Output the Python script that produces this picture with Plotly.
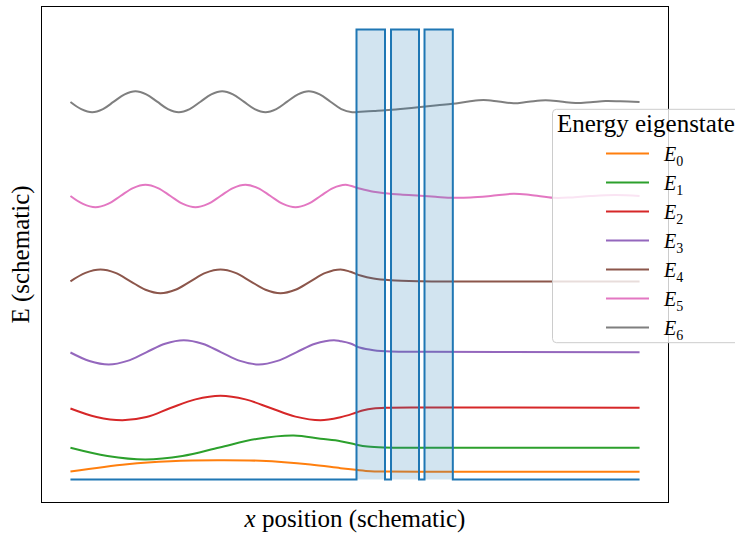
import plotly.graph_objects as go

# ---- data (schematic units: x position, energy) ----
pot_x = [0, 286, 286, 314.5, 314.5, 320.5, 320.5, 348.5, 348.5, 354, 354, 382.3, 382.3, 569]
pot_y = [0, 0, 450, 450, 0, 0, 450, 450, 0, 0, 450, 450, 0, 0]

e0_x = [0, 56.7, 100, 146.7, 190, 240, 270, 285, 300, 313, 350, 450, 569]
e0_y = [8, 15.3, 18.3, 19.3, 18.7, 15, 11.3, 9.7, 8.3, 8, 7.8, 7.7, 7.7]

e1_x = [0, 37, 75, 112, 149, 186, 223.3, 250, 270, 285, 297, 313, 350, 430, 569]
e1_y = [31.7, 23.5, 20, 23.5, 32, 40.5, 44, 40.7, 38.3, 35, 33, 32, 31.7, 31.7, 31.7]

e2_x = [0, 26, 52, 76, 100, 125, 150, 175, 200, 225, 250, 270, 285, 293, 303, 315, 350, 430, 569]
e2_y = [71, 62.5, 59.3, 62.5, 71.5, 80.1, 83.7, 80.1, 71.5, 62.9, 59.3, 62.3, 66.7, 69.3, 71, 71.7, 72, 72, 71.7]

e3_x = [0, 19, 38.3, 57, 75.8, 94.6, 113.3, 132, 150.8, 169.6, 188.3, 207, 225.8, 244.6, 263.3,
        270, 280, 290, 303, 320, 353, 430, 569]
e3_y = [127, 118.5, 115, 118.6, 127.2, 135.8, 139.3, 135.8, 127.2, 118.6, 115, 118.6, 127.2, 135.8, 139.3,
        138.3, 136, 131.7, 129.3, 128, 127.7, 127.4, 127.3]

e4_x = [0, 15, 30, 45, 60, 75, 90, 105, 120, 135, 150, 165, 180, 195, 210, 225, 240, 255, 270,
        280, 290, 303, 320, 350, 382, 430, 569]
e4_y = [198.2, 206.6, 210, 206.6, 198.2, 189.8, 186.3, 189.8, 198.2, 206.6, 210, 206.6, 198.2, 189.8,
        186.3, 189.8, 198.2, 206.6, 210, 207.7, 204, 201, 199.3, 198.3, 198, 198, 198]

e5_x = [0, 12.5, 25, 37.5, 50, 62.5, 75, 87.5, 100, 112.5, 125, 137.5, 150, 162.5, 175, 187.5, 200,
        212.5, 225, 237.5, 250, 262.5, 275, 280, 290, 303, 315, 330, 350, 367, 383,
        400, 420, 443, 460, 483, 500, 520, 545, 569]
e5_y = [283.5, 275.6, 272.3, 275.6, 283.5, 291.4, 294.7, 291.4, 283.5, 275.6, 272.3, 275.6, 283.5,
        291.4, 294.7, 291.4, 283.5, 275.6, 272.3, 275.6, 283.5, 291.4, 294.7, 293.7, 290.7, 287.7,
        286.3, 285, 283.7, 282.5, 281.7, 282, 283.5, 285.7, 284.5, 281.7, 282, 283.5, 284.5, 283.5]

e6_x = [0, 10.8, 21.7, 32.5, 43.3, 54.2, 65, 75.8, 86.7, 97.5, 108.3, 119.2, 130, 140.8, 151.7,
        162.5, 173.3, 184.2, 195, 205.8, 216.7, 227.5, 238.3, 249.2, 260, 270.8, 281.7,
        290, 303, 315, 330, 350, 367, 382, 398, 413, 428, 443, 458, 475, 490, 505, 520, 535, 550, 569]
e6_y = [377.5, 370.4, 367.3, 370.4, 377.8, 385.2, 388.3, 385.2, 377.8, 370.4, 367.3, 370.4, 377.8,
        385.2, 388.3, 385.2, 377.8, 370.4, 367.3, 370.4, 377.8, 385.2, 388.3, 385.2, 377.8, 370.4,
        367.3, 367.7, 368.5, 369.2, 370.5, 372.5, 374.2, 375.7, 378, 379.5, 378, 376.2, 377.7, 379.2,
        378, 376.5, 377.3, 378.5, 378.2, 377.5]

labels = ["<i>E</i><sub>0</sub>", "<i>E</i><sub>1</sub>", "<i>E</i><sub>2</sub>", "<i>E</i><sub>3</sub>",
          "<i>E</i><sub>4</sub>", "<i>E</i><sub>5</sub>", "<i>E</i><sub>6</sub>"]
colors = ["#ff7f0e", "#2ca02c", "#d62728", "#9467bd", "#8c564b", "#e377c2", "#7f7f7f"]
series = [(e0_x, e0_y), (e1_x, e1_y), (e2_x, e2_y), (e3_x, e3_y), (e4_x, e4_y), (e5_x, e5_y), (e6_x, e6_y)]

FONT = "Liberation Serif"
LW = 2.0

fig = go.Figure()
for (xs, ys), lab, col in zip(series, labels, colors):
    fig.add_trace(go.Scatter(x=xs, y=ys, mode="lines", name="&nbsp;&nbsp;" + lab,
                             line=dict(color=col, width=LW, shape="spline", smoothing=1.0)))

fig.add_trace(go.Scatter(x=pot_x, y=pot_y, mode="lines", fill="tozeroy",
                         fillcolor="rgba(31,119,180,0.2)",
                         line=dict(color="#1f77b4", width=LW), showlegend=False))

W, H = 735, 536
ml, mr, mt, mb = 42, 67, 7, 34
pw, ph = W - ml - mr, H - mt - mb

def px_to_paper_x(p):
    return (p - ml) / pw

def px_to_paper_y(p):
    return (H - mb - p) / ph

# legend frame (rounded left corners)
bx0, bx1 = px_to_paper_x(552.5), px_to_paper_x(745)
by0, by1 = px_to_paper_y(342.7), px_to_paper_y(109.3)
rx, ry = 4 / pw, 4 / ph
path = (f"M {bx1},{by1} L {bx0+rx},{by1} Q {bx0},{by1} {bx0},{by1-ry} "
        f"L {bx0},{by0+ry} Q {bx0},{by0} {bx0+rx},{by0} L {bx1},{by0} Z")

fig.update_layout(
    width=W, height=H,
    margin=dict(l=ml, r=mr, t=mt, b=mb, autoexpand=False),
    paper_bgcolor="white", plot_bgcolor="white",
    font=dict(family=FONT, color="black", size=25),
    xaxis=dict(range=[-28.45, 597.45], showgrid=False, zeroline=False, showticklabels=False,
               ticks="", showline=True, mirror=True, linecolor="black", linewidth=1.1,
               automargin=False,
               title=dict(text="<i>x</i> position (schematic)", font=dict(size=25, family=FONT),
                          standoff=7)),
    yaxis=dict(range=[-22.5, 472.5], showgrid=False, zeroline=False, showticklabels=False,
               ticks="", showline=True, mirror=True, linecolor="black", linewidth=1.1,
               automargin=False,
               title=dict(text="E (schematic)", font=dict(size=25, family=FONT), standoff=4)),
    shapes=[dict(type="path", xref="paper", yref="paper", path=path,
                 fillcolor="rgba(255,255,255,0.8)", line=dict(color="rgba(204,204,204,1)", width=1),
                 layer="above")],
    annotations=[dict(text="Energy eigenstate", xref="paper", yref="paper",
                      x=px_to_paper_x(645.5), y=px_to_paper_y(123.5), xanchor="center", yanchor="middle",
                      showarrow=False, font=dict(size=25, family=FONT, color="black"))],
    legend=dict(x=px_to_paper_x(601), y=px_to_paper_y(134), xanchor="left", yanchor="top",
                bgcolor="rgba(0,0,0,0)", borderwidth=0, itemwidth=43,
                font=dict(family=FONT, size=20, color="black"), tracegroupgap=0),
)

fig.write_html("out.html")
